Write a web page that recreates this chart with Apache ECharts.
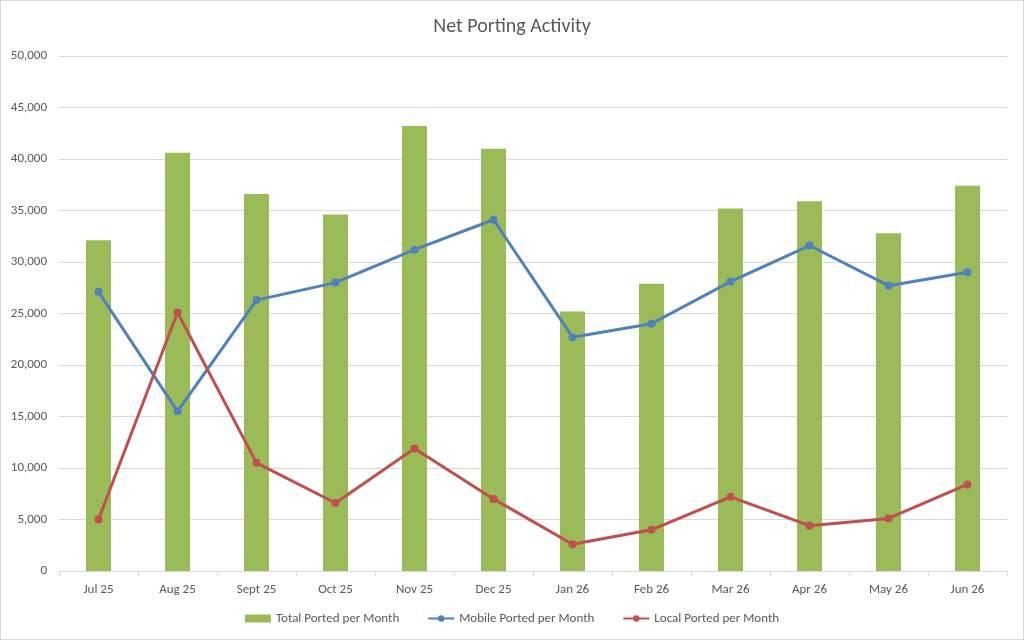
<!DOCTYPE html>
<html>
<head>
<meta charset="utf-8">
<script src="https://cdn.jsdelivr.net/npm/echarts@6/dist/echarts.min.js"></script>
<style>
  html, body { margin: 0; padding: 0; background: #fff; }
  #main { width: 1022px; height: 638px; border: 1px solid #d9d9d9; }
</style>
</head>
<body>
<div id="main"></div>
<script>
// months along the x axis
const months = ["Jul 25", "Aug 25", "Sept 25", "Oct 25", "Nov 25", "Dec 25",
  "Jan 26", "Feb 26", "Mar 26", "Apr 26", "May 26", "Jun 26"];

// values
const totalPorted = [32100, 40600, 36600, 34600, 43200, 41000, 25200, 27900, 35200, 35900, 32800, 37400];
const mobilePorted = [27100, 15500, 26300, 28000, 31200, 34100, 22700, 24000, 28100, 31600, 27700, 29000];
const localPorted = [5000, 25100, 10500, 6600, 11900, 7000, 2600, 4000, 7200, 4400, 5100, 8400];

const fontFamily = "Calibri, Carlito, 'Open Sans', sans-serif";

var myChart = echarts.init(document.getElementById("main"));

var option = {
  animation: false,
  textStyle: { fontFamily: fontFamily },
  title: {
    text: "Net Porting Activity",
    left: "center",
    top: 11,
    textStyle: { color: "#595959", fontSize: 20, fontWeight: "normal", fontFamily: fontFamily },
  },
  legend: {
    bottom: 9,
    itemGap: 28,
    itemWidth: 26,
    itemHeight: 8,
    textStyle: { color: "#595959", fontSize: 13 },
    data: [
      { name: "Total Ported per Month", icon: "rect" },
      { name: "Mobile Ported per Month" },
      { name: "Local Ported per Month" },
    ],
  },
  grid: {
    left: 58,
    right: 16,
    top: 55,
    bottom: 68,
  },
  xAxis: {
    type: "category",
    data: months,
    axisLine: { lineStyle: { color: "#d9d9d9" } },
    axisTick: { show: true, alignWithLabel: false, length: 5, lineStyle: { color: "#d9d9d9" } },
    axisLabel: { color: "#595959", fontSize: 13, margin: 12 },
  },
  yAxis: {
    type: "value",
    min: 0,
    max: 50000,
    interval: 5000,
    axisLine: { show: false },
    axisTick: { show: false },
    splitLine: { lineStyle: { color: "#d9d9d9" } },
    axisLabel: {
      color: "#595959",
      fontSize: 13,
      margin: 12,
      formatter: (v) => v.toLocaleString("en-US"),
    },
  },
  series: [
    {
      name: "Total Ported per Month",
      type: "bar",
      data: totalPorted,
      barWidth: 25,
      itemStyle: { color: "#9bbb59" },
    },
    {
      name: "Mobile Ported per Month",
      type: "line",
      data: mobilePorted,
      symbol: "circle",
      symbolSize: 8,
      lineStyle: { color: "#4f81bd", width: 3 },
      itemStyle: { color: "#4f81bd" },
    },
    {
      name: "Local Ported per Month",
      type: "line",
      data: localPorted,
      symbol: "circle",
      symbolSize: 8,
      lineStyle: { color: "#c0504d", width: 3 },
      itemStyle: { color: "#c0504d" },
    },
  ],
};
myChart.setOption(option);
</script>
</body>
</html>
